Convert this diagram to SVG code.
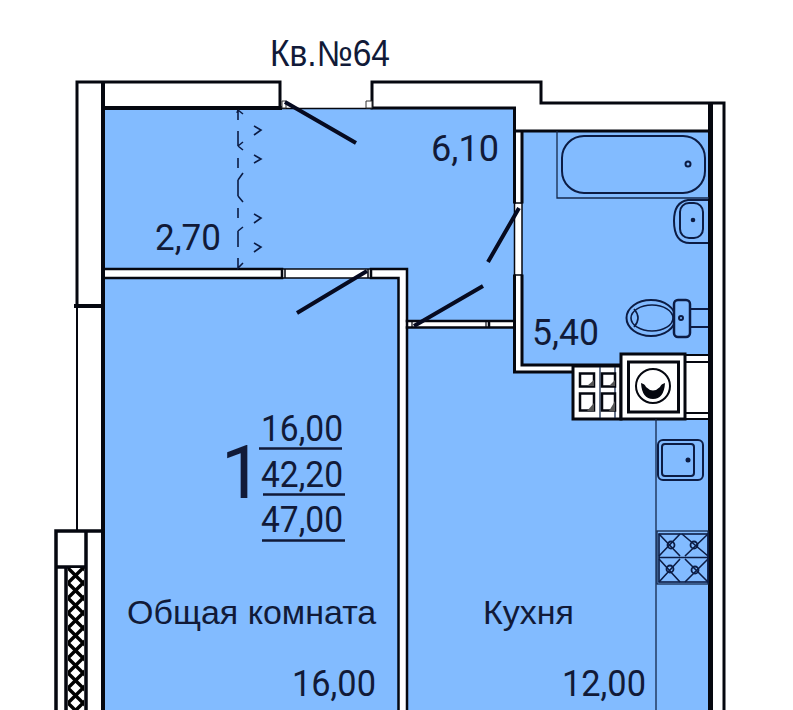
<svg xmlns="http://www.w3.org/2000/svg" width="793" height="710" viewBox="0 0 793 710">
<style>
.t{font-family:"Liberation Sans",Arial,sans-serif;font-size:36px;fill:#111a38}
.r{font-size:34px}
.g{font-family:Roboto,"Liberation Sans",Arial,sans-serif;font-size:36.500px;fill:#111a38}
.w{fill:none;stroke:#05070f;stroke-linecap:square}
.f{fill:none;stroke:#0c1c44;stroke-width:2}
.d{fill:none;stroke:#060a20;stroke-width:4}
.c{fill:none;stroke:#14284c;stroke-width:1.300}
.n{fill:none;stroke:#0c1c44;stroke-width:1.600}
</style>
<defs>
<pattern id="hatch" width="15" height="15" patternUnits="userSpaceOnUse" patternTransform="translate(68 568)">
<rect width="15" height="15" fill="#fff"/>
<path d="M-1 -1L16 16M16 -1L-1 16" stroke="#000" stroke-width="3.400"/>
</pattern>
</defs>
<rect width="793" height="710" fill="#fff"/>
<g id="floor">
<path fill="#82bbff" d="M104 109H514V320H407V269H104Z"/>
<rect x="104" y="278" width="294" height="432" fill="#82bbff"/>
<rect x="522" y="131" width="187" height="235" fill="#82bbff"/>
<path fill="#82bbff" d="M407 327H514V372H573V419H709V710H407Z"/>
</g>
<g id="walls">
<path class="w" stroke-width="3" d="M104 82H280V108M77 305V82H104"/>
<path class="w" stroke-width="4" d="M103 84V710M104 108H280"/>
<path class="w" stroke-width="3" d="M372 107V82H541V103H724V710"/>
<path class="w" stroke-width="5" d="M710.500 105V710"/>
<path class="w" stroke-width="4" d="M76 306H102"/>
<path class="w" stroke-width="2" d="M77 306V530"/>
<path class="w" stroke-width="1.500" d="M280 108.500H372"/>
<path class="w" stroke-width="3" d="M372 108H514.500V202M515 131H709M522 131V202M514.500 276V372H573M522 276V365H621"/>
<path class="w" stroke-width="1.500" d="M514.500 202V276M522 202V276M515 203H522M515 275H522"/>
<path fill="#fff" stroke="#333" stroke-width="1" d="M282 101h4v7h-4zM366 101h6v7h-6z"/>
<path class="w" stroke-width="2.500" d="M105 269H280M105 278H280M371 269H407V710M371 278H398.500V710M282 269V278M371 269V278"/>
<path class="w" stroke-width="1.500" d="M280 269H371M280 278H371M285 269V278M368 269V278"/>
<path class="w" stroke-width="2.500" d="M407 321H488M407 327.500H488M491 321H514M491 327.500H514M489 321V327.500"/>
<path class="w" stroke-width="1.200" d="M412 321V327.500M486 321V327.500"/>
</g>
<g id="balcony">
<path class="w" stroke-width="3.500" d="M56 531H103M56 531V710M86 531V710M56 567H86M66 568V710"/>
<rect x="68" y="568" width="16" height="142" fill="url(#hatch)"/>
</g>
<g id="connectors">
<path class="d" d="M285 102L356 143M367 271L297 313M414 326L483 286M519 208L488 262"/>
<path class="n" d="M238 110V120M238 131V146M238 158V168M238 180V196M238 208V218M238 231V247M238 258V268M238 110l5 4M238 110l-1 3M238 146l5-4M238 146l5 4M238 180l5-7M238 196l5 6M238 231l5-4M238 258v10l5-5M254 126l7 4-7 5M254 155l7 4-7 4M254 214l7 4-7 5M254 243l7 4-7 5"/>
</g>
<g id="bath">
<path class="c" d="M557 131V198H709"/>
<rect x="562" y="136" width="143" height="57" rx="22" class="f"/>
<circle cx="688" cy="164" r="2.500" class="f"/>
</g>
<g id="basin">
<path class="f" d="M708 200H688Q674 202 674 221Q674 243 690 243H708"/>
<rect x="680" y="203" width="23" height="35" rx="9" class="f"/>
<circle cx="693" cy="220" r="2.300" fill="#0c1c44"/>
</g>
<g id="toilet">
<ellipse cx="651" cy="318" rx="24.500" ry="18" class="f"/>
<ellipse cx="652" cy="318" rx="21" ry="13" class="n"/>
<path class="n" d="M634 309Q642 318 634 327"/>
<rect x="674" y="300" width="16" height="37" rx="4" fill="#82bbff" stroke="#0c1c44" stroke-width="2.500"/>
<circle cx="681" cy="318" r="2" class="f"/>
<path class="f" stroke-width="2.500" d="M690 309H708M690 327H708"/>
</g>
<g id="tiles">
<rect x="573" y="366" width="48" height="53" fill="#fff" stroke="#05070f" stroke-width="3"/>
<path class="c" stroke="#555" d="M600 367V418M615 367V418"/>
<path fill="#fff" stroke="#05070f" stroke-width="2.500" d="M580 373.500h14v13h-14zM602 373.500h13v13h-13zM580 393.500h14v17h-14zM602 393.500h13v17h-13z"/>
<path fill="#555" d="M587 386l7-6v6zM609 386l6-6v6zM587 411l7-8v8zM609 411l6-10v10z"/>
</g>
<g id="washer">
<rect x="685" y="355" width="23" height="64" fill="#fff"/>
<rect x="621" y="354" width="64" height="65" fill="#fff" stroke="#05070f" stroke-width="3"/>
<rect x="628.500" y="362" width="50" height="50" fill="none" stroke="#05070f" stroke-width="3"/>
<circle cx="653" cy="386" r="17" fill="none" stroke="#05070f" stroke-width="2"/>
<path fill="#05070f" d="M641 383Q645 384 646 387Q653 394 660 387Q661 384 665 383Q664 399 653 399Q642 399 641 383Z"/>
<path class="w" stroke-width="2" d="M685 362H708M685 413H708M685 355H708M685 419H708"/>
</g>
<g id="counter">
<path stroke="#14284c" stroke-width="1.300" d="M656 419V710"/>
</g>
<g id="sink">
<rect x="658" y="440" width="45" height="40" rx="5" class="f"/>
<rect x="662" y="444" width="32" height="32" rx="3" class="f"/>
<circle cx="688" cy="460" r="2.500" fill="#0c1c44"/>
</g>
<g id="stove">
<rect x="657" y="531" width="51" height="53" class="c"/>
<rect x="659" y="534" width="49" height="48" class="n"/>
<path class="n" d="M659 557.500H708M659 534L680 556M680 534L659 556M682 534L708 556M708 534L685 556M659 559L680 582M680 559L659 582M685 559L708 582M708 559L685 582"/>
<g fill="none" stroke="#0c1c44" stroke-width="1.800"><circle cx="671" cy="545" r="3.500"/><circle cx="694" cy="545" r="3.500"/><circle cx="670" cy="569" r="3.500"/><circle cx="695" cy="570" r="3.500"/></g>
</g>
<g id="labels">
<text class="t" x="270" y="66" textLength="120" lengthAdjust="spacingAndGlyphs">Кв.№64</text>
<text class="g" x="155" y="250" textLength="66" lengthAdjust="spacingAndGlyphs">2,70</text>
<text class="g" x="431" y="161" textLength="68" lengthAdjust="spacingAndGlyphs">6,10</text>
<text class="g" x="532" y="345" textLength="67" lengthAdjust="spacingAndGlyphs">5,40</text>
<text class="g" x="221" y="498" style="font-size:74px">1</text>
<text class="g" x="261" y="441" textLength="82" lengthAdjust="spacingAndGlyphs">16,00</text>
<text class="g" x="261" y="487" textLength="82" lengthAdjust="spacingAndGlyphs">42,20</text>
<text class="g" x="261" y="532" textLength="82" lengthAdjust="spacingAndGlyphs">47,00</text>
<path stroke="#111a38" stroke-width="2.500" d="M259 448.500H342M263 494.500H345M262 540.500H345"/>
<text class="t r" x="127" y="624">Общая комната</text>
<text class="t r" x="483" y="624">Кухня</text>
<text class="g" x="292" y="696" textLength="84" lengthAdjust="spacingAndGlyphs">16,00</text>
<text class="g" x="562" y="696" textLength="84" lengthAdjust="spacingAndGlyphs">12,00</text>
</g>
</svg>
